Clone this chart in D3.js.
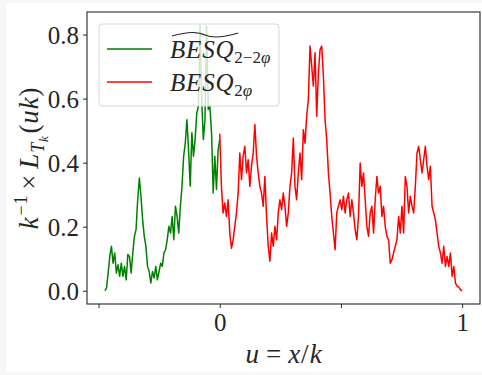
<!DOCTYPE html>
<html>
<head>
<meta charset="utf-8">
<script src="https://cdn.jsdelivr.net/npm/d3@7"></script>
<style>
  html, body { margin: 0; padding: 0; background: #f7f7f7; }
  svg { display: block; }
</style>
</head>
<body>
<svg id="chart" width="482" height="375"></svg>
<script>
// ---- data ----
const greenStart = -0.474, greenEnd = 0.0;
const greenValues = [
  0.000, 0.008, 0.055, 0.107, 0.139, 0.086, 0.118, 0.055, 0.081, 0.045,
  0.086, 0.045, 0.076, 0.034, 0.113, 0.107, 0.055, 0.118, 0.170, 0.191,
  0.284, 0.352, 0.295, 0.222, 0.170, 0.139, 0.076, 0.060, 0.024, 0.060,
  0.040, 0.076, 0.034, 0.060, 0.086, 0.076, 0.118, 0.128, 0.159, 0.201,
  0.180, 0.232, 0.159, 0.264, 0.232, 0.180, 0.264, 0.326, 0.420, 0.461,
  0.534, 0.440, 0.326, 0.493, 0.420, 0.472, 0.555, 0.576, 0.829, 0.597,
  0.472, 0.534, 0.826, 0.566, 0.576, 0.493, 0.305, 0.420, 0.316, 0.440,
  0.472
];
const redStart = 0.0, redEnd = 1.0;
const redValues = [
  0.490, 0.326, 0.243, 0.274, 0.232, 0.284, 0.180, 0.133, 0.159, 0.201,
  0.243, 0.305, 0.430, 0.347, 0.420, 0.451, 0.368, 0.409, 0.326, 0.389,
  0.430, 0.519, 0.420, 0.368, 0.326, 0.305, 0.264, 0.357, 0.232, 0.139,
  0.092, 0.180, 0.139, 0.201, 0.159, 0.243, 0.284, 0.253, 0.305, 0.264,
  0.201, 0.243, 0.326, 0.368, 0.477, 0.326, 0.284, 0.368, 0.430, 0.347,
  0.503, 0.461, 0.545, 0.597, 0.764, 0.701, 0.639, 0.743, 0.545, 0.680,
  0.753, 0.764, 0.670, 0.534, 0.472, 0.368, 0.305, 0.232, 0.180, 0.128,
  0.243, 0.264, 0.284, 0.253, 0.295, 0.243, 0.284, 0.305, 0.232, 0.284,
  0.243, 0.191, 0.159, 0.232, 0.399, 0.326, 0.368, 0.284, 0.201, 0.170,
  0.243, 0.264, 0.180, 0.284, 0.357, 0.305, 0.326, 0.232, 0.264, 0.201,
  0.170, 0.159, 0.086, 0.097, 0.118, 0.139, 0.159, 0.232, 0.180, 0.264,
  0.180, 0.357, 0.326, 0.243, 0.295, 0.264, 0.243, 0.326, 0.430, 0.451,
  0.409, 0.368, 0.409, 0.451, 0.389, 0.347, 0.389, 0.264, 0.243, 0.222,
  0.180, 0.139, 0.118, 0.086, 0.139, 0.076, 0.107, 0.076, 0.118, 0.045,
  0.076, 0.024, 0.014, 0.011, 0.003, 0.000
];
const xTickValues = [-0.5, 0, 0.5, 1];
const xTickLabels = ["", "0", "", "1"];
const yTickValues = [0, 0.2, 0.4, 0.6, 0.8];
const yTickLabels = ["0.0", "0.2", "0.4", "0.6", "0.8"];

// ---- build series ----
function series(start, end, vals) {
  const n = vals.length;
  return vals.map((v, i) => ({ x: start + (end - start) * i / (n - 1), y: v }));
}
const green = series(greenStart, greenEnd, greenValues);
const red = series(redStart, redEnd, redValues);
const all = green.concat(red);

// ---- layout ----
const svg = d3.select("#chart");
svg.append("rect").attr("x", 6).attr("y", 3).attr("width", 476).attr("height", 369).attr("fill", "#ffffff");

const pL = 87, pR = 480, pT = 12, pB = 304;
const xExt = d3.extent(all, d => d.x), yExt = d3.extent(all, d => d.y);
const xPad = (xExt[1] - xExt[0]) * 0.05, yPad = (yExt[1] - yExt[0]) * 0.05;
const x = d3.scaleLinear().domain([xExt[0] - xPad, xExt[1] + xPad]).range([pL, pR]);
const y = d3.scaleLinear().domain([yExt[0] - yPad, yExt[1] + yPad]).range([pB, pT]);

const serif = "'Liberation Serif', 'DejaVu Serif', serif";
const ink = "#262626";

// lines
const line = d3.line().x(d => x(d.x)).y(d => y(d.y));
const plot = svg.append("g");
plot.append("path").datum(green).attr("d", line)
  .attr("fill", "none").attr("stroke", "#008000").attr("stroke-width", 1.5).attr("stroke-linejoin", "round");
plot.append("path").datum(red).attr("d", line)
  .attr("fill", "none").attr("stroke", "#ff0000").attr("stroke-width", 1.5).attr("stroke-linejoin", "round");

// axes
const xAxis = d3.axisBottom(x).tickValues(xTickValues)
  .tickFormat((d, i) => xTickLabels[i]).tickSize(4).tickPadding(5);
const yAxis = d3.axisLeft(y).tickValues(yTickValues)
  .tickFormat((d, i) => yTickLabels[i]).tickSize(4).tickPadding(4);

const gx = svg.append("g").attr("transform", `translate(0,${pB})`).call(xAxis);
const gy = svg.append("g").attr("transform", `translate(${pL},0)`).call(yAxis);
[gx, gy].forEach(g => {
  g.select(".domain").remove();
  g.selectAll(".tick line").attr("stroke", ink).attr("stroke-width", 1);
  g.selectAll(".tick text").attr("fill", ink).style("font-family", serif).style("font-size", "25px");
});
gy.selectAll(".tick text").attr("dy", "0.34em");
gx.selectAll(".tick text").attr("dy", "0.72em");

// frame
svg.append("rect").attr("x", pL).attr("y", pT).attr("width", pR - pL).attr("height", pB - pT)
  .attr("fill", "none").attr("stroke", ink).attr("stroke-width", 1.1);

// x label
const xl = svg.append("text").attr("x", (pL + pR) / 2).attr("y", 363)
  .attr("text-anchor", "middle").style("font-family", serif).style("font-size", "27px").attr("fill", ink);
xl.append("tspan").style("font-style", "italic").text("u");
xl.append("tspan").attr("dx", 7).text("=");
xl.append("tspan").attr("dx", 7).style("font-style", "italic").text("x");
xl.append("tspan").attr("dx", 1).text("/");
xl.append("tspan").attr("dx", 1).style("font-style", "italic").text("k");

// y label
const yl = svg.append("text").attr("transform", `translate(38,${(pT + pB) / 2}) rotate(-90)`)
  .attr("text-anchor", "middle").style("font-family", serif).style("font-size", "27px").attr("fill", ink)
  .style("letter-spacing", "0.8px");
yl.append("tspan").style("font-style", "italic").text("k");
yl.append("tspan").attr("dy", -11).attr("dx", 1).style("font-size", "18px").text("−1");
yl.append("tspan").attr("dy", 11).attr("dx", 5).text("×");
yl.append("tspan").attr("dx", 5).style("font-style", "italic").text("L");
yl.append("tspan").attr("dy", 6).style("font-size", "18px").style("font-style", "italic").text("T");
yl.append("tspan").attr("dy", 4).style("font-size", "13px").style("font-style", "italic").text("k");
yl.append("tspan").attr("dy", -10).attr("dx", 2).text("(");
yl.append("tspan").style("font-style", "italic").text("uk");
yl.append("tspan").text(")");

// legend
const lg = svg.append("g");
lg.append("rect").attr("x", 99).attr("y", 24).attr("width", 180).attr("height", 82).attr("rx", 3)
  .attr("fill", "#ffffff").attr("fill-opacity", 0.8).attr("stroke", "#d6d6d6").attr("stroke-width", 1);
const legendItems = [
  { color: "#008000", sub: ["2−2", "φ"], tilde: true, yy: 49 },
  { color: "#ff0000", sub: ["2", "φ"], tilde: false, yy: 82 }
];
legendItems.forEach(it => {
  lg.append("line").attr("x1", 107).attr("x2", 152).attr("y1", it.yy).attr("y2", it.yy)
    .attr("stroke", it.color).attr("stroke-width", 1.5);
  const t = lg.append("text").attr("x", 170).attr("y", it.yy + 9)
    .style("font-family", serif).style("font-size", "25px").attr("fill", ink);
  const main = t.append("tspan").style("font-style", "italic").style("letter-spacing", "0.8px").text("BESQ");
  t.append("tspan").attr("dy", 5).style("font-size", "17px").text(it.sub[0]);
  t.append("tspan").style("font-size", "17px").style("font-style", "italic").text(it.sub[1]);
  if (it.tilde) {
    const w = main.node().getComputedTextLength();
    const x0 = 172, x1 = 172 + w + 2, yb = it.yy - 13;
    const m = (x0 + x1) / 2;
    lg.append("path")
      .attr("d", `M${x0},${yb} C${x0 + (m - x0) * 0.4},${yb - 4} ${m - 8},${yb - 5} ${m},${yb - 1}` +
                 ` C${m + 8},${yb + 3} ${x1 - (x1 - m) * 0.4},${yb + 1} ${x1},${yb - 3}`)
      .attr("fill", "none").attr("stroke", ink).attr("stroke-width", 1.1);
  }
});
</script>
</body>
</html>
